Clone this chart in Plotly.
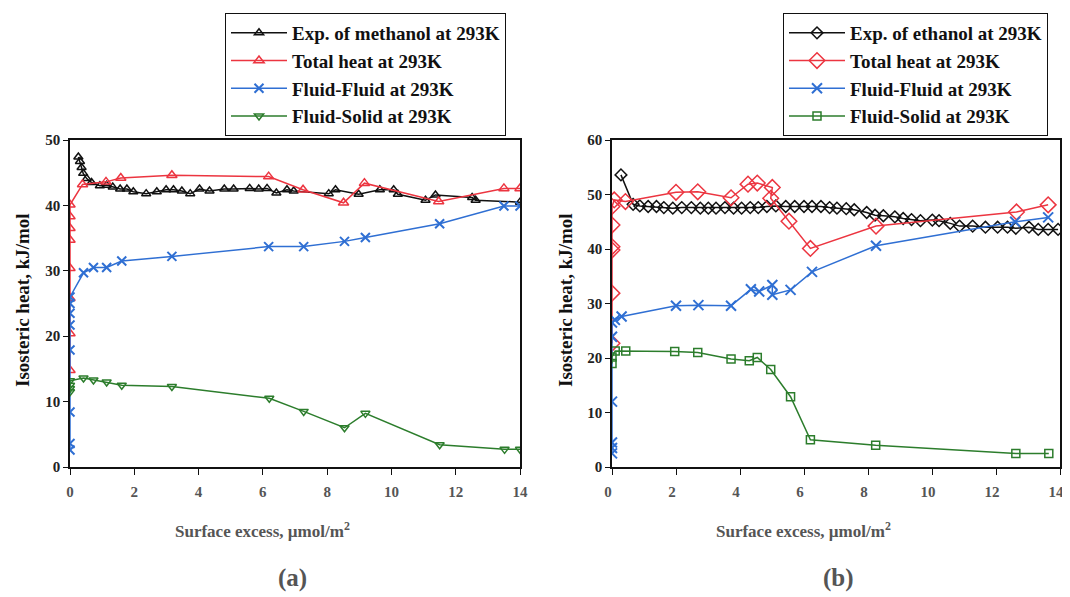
import plotly.graph_objects as go

# ---------------- Panel (a): methanol ----------------
a_exp_x = [0.26, 0.31, 0.36, 0.41, 0.52, 0.67, 0.93, 1.14, 1.33, 1.56, 1.77, 1.97, 2.37, 2.70,
           2.99, 3.22, 3.48, 3.74, 4.03, 4.34, 4.80, 5.09, 5.59, 5.87, 6.13, 6.42, 6.75, 6.96,
           8.05, 8.26, 8.98, 9.64, 10.07, 10.20, 11.06, 11.37, 12.51, 12.62, 14.0]
a_exp_y = [47.4, 46.7, 45.8, 44.9, 44.1, 43.5, 43.0, 43.1, 42.8, 42.5, 42.5, 42.1, 41.8, 42.1,
           42.4, 42.4, 42.2, 41.8, 42.5, 42.2, 42.5, 42.5, 42.6, 42.5, 42.6, 41.9, 42.4, 42.2,
           41.8, 42.4, 41.7, 42.4, 42.4, 41.7, 40.8, 41.6, 41.2, 40.8, 40.5]

a_tot_x = [0.0, 0.0, 0.0, 0.0, 0.0, 0.0, 0.0, 0.0, 0.39, 1.12, 1.58, 3.17, 6.18, 7.25, 8.51,
           9.16, 11.47, 13.5, 14.0]
a_tot_y = [14.8, 20.4, 25.8, 30.4, 34.7, 36.5, 38.3, 40.1, 43.2, 43.6, 44.2, 44.6, 44.4, 42.4,
           40.4, 43.4, 40.6, 42.6, 42.6]

a_ff_x = [0.0, 0.0, 0.0, 0.0, 0.0, 0.0, 0.0, 0.0, 0.42, 0.73, 1.14, 1.61, 3.17, 6.18, 7.27,
          8.54, 9.19, 11.5, 13.5, 14.0]
a_ff_y = [2.6, 3.6, 8.4, 17.9, 21.7, 23.5, 25.0, 26.0, 29.7, 30.5, 30.5, 31.5, 32.2, 33.7,
          33.7, 34.5, 35.1, 37.2, 39.9, 39.9]

a_fs_x = [0.0, 0.0, 0.0, 0.0, 0.42, 0.73, 1.14, 1.61, 3.17, 6.2, 7.27, 8.54, 9.19, 11.5,
          13.52, 14.0]
a_fs_y = [11.5, 12.0, 12.5, 13.2, 13.6, 13.3, 13.0, 12.5, 12.3, 10.5, 8.5, 6.0, 8.2, 3.4,
          2.7, 2.7]

# ---------------- Panel (b): ethanol ----------------
b_exp_x = [0.28, 0.66, 0.87, 1.13, 1.39, 1.62, 1.90, 2.18, 2.48, 2.76, 3.01, 3.25, 3.53, 3.80,
           4.05, 4.32, 4.57, 4.84, 5.12, 5.43, 5.71, 6.00, 6.25, 6.53, 6.80, 7.03, 7.32, 7.57,
           7.96, 8.22, 8.48, 8.84, 9.10, 9.36, 9.64, 10.01, 10.22, 10.57, 10.86, 11.27, 11.67,
           12.05, 12.36, 12.62, 13.03, 13.32, 13.63, 13.94]
b_exp_y = [53.6, 48.2, 47.9, 47.8, 47.8, 47.6, 47.5, 47.6, 47.6, 47.5, 47.5, 47.5, 47.6, 47.5,
           47.5, 47.6, 47.6, 47.8, 47.9, 47.8, 47.8, 47.8, 47.8, 47.8, 47.6, 47.5, 47.4, 47.2,
           46.7, 46.2, 46.1, 45.9, 45.6, 45.4, 45.2, 45.3, 45.2, 44.7, 44.2, 44.2, 44.0, 44.0,
           44.0, 43.8, 44.0, 43.6, 43.6, 43.6]

b_tot_x = [0.0, 0.0, 0.0, 0.0, 0.0, 0.0, 0.07, 0.42, 2.0, 2.68, 3.72, 4.25, 4.54, 5.01, 4.96,
           5.53, 6.2, 8.25, 12.64, 13.63]
b_tot_y = [22.7, 31.9, 39.8, 40.4, 44.4, 47.8, 49.0, 48.7, 50.4, 50.5, 49.4, 51.9, 52.1, 51.3,
           49.3, 45.1, 40.1, 44.2, 46.8, 48.1]

b_ff_x = [0.0, 0.0, 0.0, 0.0, 0.0, 0.0, 0.09, 0.30, 2.0, 2.7, 3.72, 4.34, 4.6, 5.01, 5.01,
          5.58, 6.25, 8.25, 12.6, 13.63]
b_ff_y = [2.5, 3.5, 4.5, 12.0, 23.9, 26.5, 27.0, 27.6, 29.6, 29.7, 29.6, 32.6, 32.2, 33.4,
          31.6, 32.5, 35.8, 40.6, 45.0, 45.8]

b_fs_x = [0.0, 0.0, 0.1, 0.43, 1.96, 2.68, 3.72, 4.29, 4.54, 4.96, 5.58, 6.2, 8.24, 12.62,
          13.65]
b_fs_y = [19.0, 20.2, 21.3, 21.3, 21.2, 21.0, 19.8, 19.5, 20.1, 17.9, 12.9, 5.0, 4.0, 2.5,
          2.5]

legend_a = ["Exp. of methanol at 293K", "Total heat at 293K", "Fluid-Fluid at 293K",
            "Fluid-Solid at 293K"]
legend_b = ["Exp. of ethanol at 293K", "Total heat at 293K", "Fluid-Fluid at 293K",
            "Fluid-Solid at 293K"]

BLACK = "#111111"
RED = "#ec3540"
BLUE = "#2f6fd3"
GREEN = "#2c7d2c"
SERIF = "Liberation Serif"

# the page body adds an 8px margin, so the figure is 8px smaller and offset
OFF = 8
W, H = 1070 - OFF, 597 - OFF


def px_x(p):
    return (p - OFF) / W


def px_y(p):
    return 1 - (p - OFF) / H


fig = go.Figure()


def add(x, y, name, color, symbol, size, xa, ya, leg, msize_line=1.5):
    fig.add_trace(go.Scatter(
        x=x, y=y, name=name, mode="lines+markers",
        line=dict(color=color, width=1.5),
        marker=dict(symbol=symbol, size=size, color=color,
                    line=dict(color=color, width=msize_line)),
        xaxis=xa, yaxis=ya, legend=leg))


add(a_exp_x, a_exp_y, legend_a[0], BLACK, "triangle-up-open", 8, "x", "y", "legend")
add(a_tot_x, a_tot_y, legend_a[1], RED, "triangle-up-open", 9, "x", "y", "legend")
add(a_ff_x, a_ff_y, legend_a[2], BLUE, "x-thin-open", 9, "x", "y", "legend", 2)
add(a_fs_x, a_fs_y, legend_a[3], GREEN, "triangle-down-open", 8, "x", "y", "legend")

add(b_exp_x, b_exp_y, legend_b[0], BLACK, "diamond-open", 9, "x2", "y2", "legend2")
add(b_tot_x, b_tot_y, legend_b[1], RED, "diamond-open", 12, "x2", "y2", "legend2")
add(b_ff_x, b_ff_y, legend_b[2], BLUE, "x-thin-open", 10, "x2", "y2", "legend2", 2)
add(b_fs_x, b_fs_y, legend_b[3], GREEN, "square-open", 8, "x2", "y2", "legend2")

tickfont = dict(family=SERIF, size=15, color="#222222", weight="bold")
common_x = dict(range=[0, 14], dtick=2, tick0=0, showgrid=False, zeroline=False,
                showline=True, linecolor=BLACK, linewidth=1.5, mirror=True,
                ticks="outside", ticklen=6, tickwidth=1.2, tickcolor=BLACK,
                tickfont=dict(tickfont, color="#555555"), ticklabelstandoff=4,
                automargin=False)
common_y = dict(showgrid=False, zeroline=False, showline=True, linecolor=BLACK,
                linewidth=1.5, mirror=True, ticks="outside", ticklen=5, tickwidth=1.2,
                tickcolor=BLACK, tickfont=tickfont, dtick=10, tick0=0, automargin=False)

ytop, ybot = px_y(140), px_y(467)

legend_style = dict(bgcolor="white", bordercolor=BLACK, borderwidth=1,
                    font=dict(family=SERIF, size=19, color="#111111", weight="bold"),
                    xanchor="left", yanchor="top", tracegroupgap=0,
                    itemwidth=56)

fig.update_layout(
    width=W, height=H,
    margin=dict(l=0, r=0, t=0, b=0, autoexpand=False),
    paper_bgcolor="white", plot_bgcolor="white",
    xaxis=dict(domain=[px_x(70), px_x(520)], anchor="y", **common_x),
    yaxis=dict(domain=[ybot, ytop], anchor="x", range=[0, 50], **common_y),
    xaxis2=dict(domain=[px_x(612), px_x(1060)], anchor="y2", ticklabelshift=-4,
                **common_x),
    yaxis2=dict(domain=[ybot, ytop], anchor="x2", range=[0, 60], **common_y),
    legend=dict(x=px_x(225), y=px_y(13), **legend_style),
    legend2=dict(x=px_x(783), y=px_y(13), **legend_style),
    showlegend=True,
)

ann_font = dict(family=SERIF, size=17, color="#555555", weight="bold")
annotations = [
    dict(text="Surface excess, µmol/m<sup>2</sup>", x=px_x(262), y=px_y(530),
         font=ann_font),
    dict(text="Surface excess, µmol/m<sup>2</sup>", x=px_x(803), y=px_y(530),
         font=ann_font),
    dict(text="Isosteric heat, kJ/mol", x=px_x(22), y=px_y(300), textangle=-90,
         font=dict(family=SERIF, size=19, color="#111111", weight="bold")),
    dict(text="Isosteric heat, kJ/mol", x=px_x(565), y=px_y(300), textangle=-90,
         font=dict(family=SERIF, size=19, color="#111111", weight="bold")),
    dict(text="(a)", x=px_x(292), y=px_y(578),
         font=dict(family=SERIF, size=25, color="#555555", weight="bold")),
    dict(text="(b)", x=px_x(838), y=px_y(578),
         font=dict(family=SERIF, size=25, color="#555555", weight="bold")),
]
for a in annotations:
    a.update(xref="paper", yref="paper", showarrow=False, xanchor="center",
             yanchor="middle")
fig.update_layout(annotations=annotations)

fig.write_html("out.html")
